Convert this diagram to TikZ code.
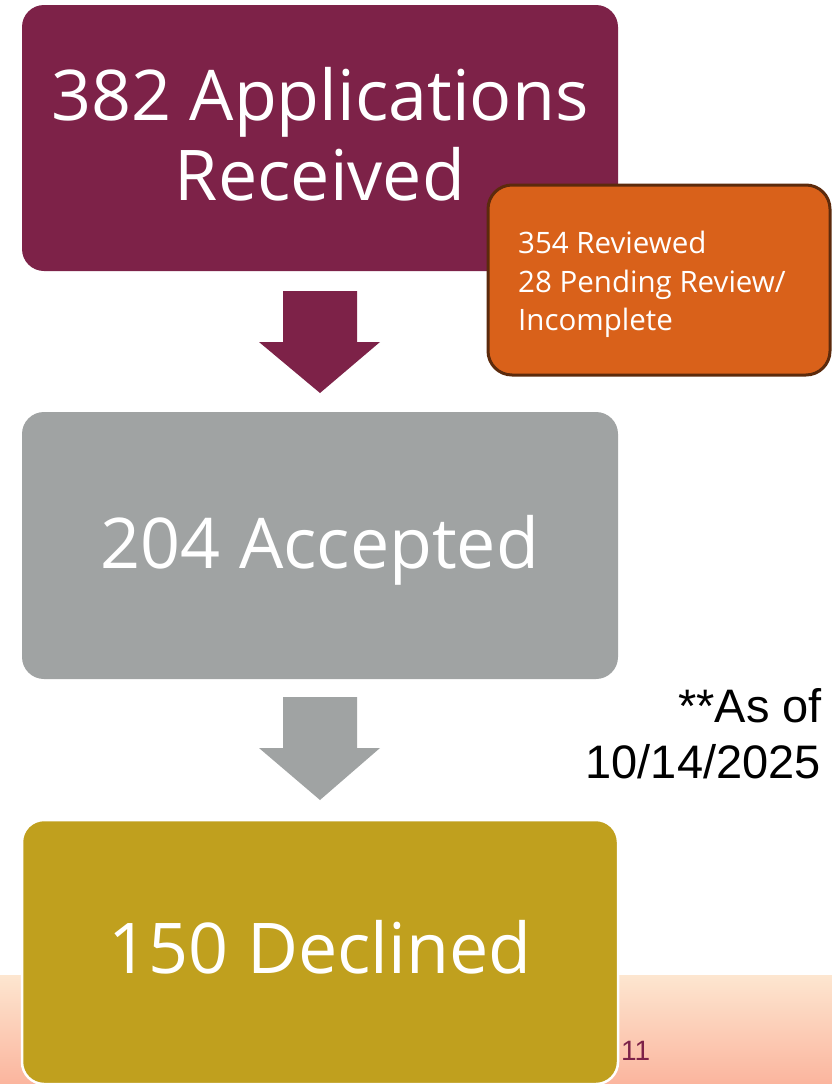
\documentclass[tikz,border=0pt]{standalone}
\usepackage{fontspec}
\setmainfont{Open Sans}
\newfontfamily\labelfont{Liberation Sans}
\begin{document}
\begin{tikzpicture}[x=1pt,y=-1pt,
  stage/.style={rounded corners=22pt, minimum width=596pt, inner sep=0pt},
  stagetext/.style={anchor=base, text=white, inner sep=0pt, font=\fontsize{70}{80}\selectfont},
  stattext/.style={anchor=base west, text=white, inner sep=0pt, font=\fontsize{29.5}{38.5}\selectfont},
  notetext/.style={anchor=base east, inner sep=0pt, font=\labelfont\fontsize{47}{56}\selectfont}]
\definecolor{maroonc}{HTML}{7D2248}
\definecolor{grayc}{HTML}{A0A3A3}
\definecolor{goldc}{HTML}{C0A01E}
\definecolor{orangec}{HTML}{D9611A}
\definecolor{brownc}{HTML}{5C2A0C}
\definecolor{peachtop}{HTML}{FDE6D0}
\definecolor{peachbot}{HTML}{FBB59E}
\useasboundingbox (0,0) rectangle (832,1084);
\fill[white] (0,0) rectangle (832,1084);
% footer band
\shade[top color=peachtop, bottom color=peachbot] (0,975) rectangle (832,1084);
% stages
\node[stage, fill=maroonc, minimum height=266pt] (recv) at (320,138) {};
\node[stagetext] (recvA) at (320,120) {382 Applications};
\node[stagetext] (recvB) at (320,200) {Received};
\node[stage, fill=grayc, minimum height=267pt] (acc) at (320,545.5) {};
\node[stagetext] (accT) at (320,568) {204 Accepted};
\node[stage, fill=goldc, draw=white, line width=2.5pt, minimum height=264pt] (decl) at (320,952) {};
\node[stagetext] (declT) at (320,973) {150 Declined};
% review status callout
\node[draw=brownc, line width=3pt, fill=orangec, rounded corners=24pt,
  minimum width=342pt, minimum height=190pt] (stat) at (659,280) {};
\node[stattext] (statA) at (518,253) {354 Reviewed};
\node[stattext] (statB) at (518,292) {28 Pending Review/};
\node[stattext] (statC) at (518,330) {Incomplete};
% block arrows between stages
\fill[maroonc] (283,291) -- (357,291) -- (357,342) -- (380,342) -- (320,393) -- (259,342) -- (283,342) -- cycle;
\fill[grayc] (283,697) -- (357,697) -- (357,748) -- (380,748) -- (320,800) -- (259,748) -- (283,748) -- cycle;
% date note
\node[notetext] (noteA) at (822,722) {**As of};
\node[notetext] (noteB) at (821,778) {10/14/2025};
% page number
\node[anchor=base west, inner sep=0pt, text=maroonc, font=\labelfont\fontsize{28}{30}\selectfont] (pg) at (621,1060) {11};
\end{tikzpicture}
\end{document}
